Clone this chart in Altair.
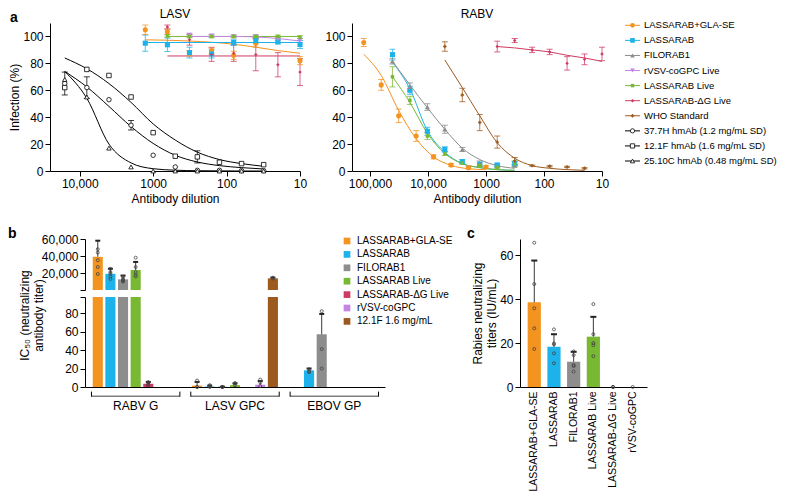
import altair as alt
import pandas as pd

FONT = "Liberation Sans"
ORANGE = "#F39320"
BLUE = "#1DB3EA"
GRAY = "#8D8D8D"
GREEN = "#78B833"
RED = "#CF3A62"
PURPLE = "#C585E2"
BROWN = "#9D5A1E"
INK = "#000000"
DOT = "#444444"

# ---------------- panel a : series ----------------
A_SERIES = ["LASSARAB+GLA-SE", "LASSARAB", "FILORAB1", "rVSV-coGPC Live",
            "LASSARAB Live", "LASSARAB-\u0394G Live", "WHO Standard",
            "37.7H hmAb (1.2 mg/mL SD)", "12.1F hmAb (1.6 mg/mL SD)",
            "25.10C hmAb (0.48 mg/mL SD)"]
A_COLORS = [ORANGE, BLUE, GRAY, PURPLE, GREEN, RED, BROWN, INK, INK, INK]
A_SHAPES = ["circle", "square", "triangle-up", "triangle-down", "square",
            "diamond", "cross", "circle", "square", "triangle-up"]
BIG = A_SERIES[:4]
SMALL = A_SERIES[4:7]
OPEN = A_SERIES[7:]

# LASV - human mAbs
lasv_hm_dil = [16000, 8000, 4000, 2000, 1000, 500, 250, 125, 62.5, 31.25]
lasv_377 = [65, 62, 53, 34, 11.7, 3, 0.5, 0.5, 0.3, 0.3]
lasv_377_err = [8.5, 8, 0, 3.5, 0, 0, 0, 0, 0, 0]
lasv_377_fit = [74, 62.5, 48, 33, 20.5, 11.7, 6.7, 4, 2.5, 1.5]
lasv_121 = [62, 75.5, 71, 55, 28.5, 11, 10.5, 6.5, 5.5, 4.7]
lasv_121_err = [0, 0, 0, 0, 0, 0, 4.5, 0, 0, 0]
lasv_121_fit = [84, 76, 65, 51, 35, 23, 14, 8.5, 5.5, 3.5]
lasv_2510 = [68, 55, 17, 3, 0, 0, 0, 0, 0, 0]
lasv_2510_err = [0, 0, 0, 0, 0, 0, 0, 0, 0, 0]
lasv_2510_fit = [74, 54, 20, 6, 1.7, 0.6, 0.2, 0.1, 0, 0]

# LASV - sera
lasv_vac_dil = [1280, 640, 320, 160, 80, 40, 20, 10]
lasv_gla = [105, 103.5, 87.5, 89.5, 86, 95, None, 82]
lasv_gla_err = [3.5, 2, 2, 2.5, 3, 3, None, 3]
lasv_gla_fit = [97.5, 97.2, 96.6, 95.7, 94.2, 92, 89.5, 87.5]
lasv_lsr = [95, 93.8, 88, 87, 95.5, 97, 96, 94]
lasv_lsr_err = [6, 5, 4, 3, 2, 2, 1.5, 3]
lasv_lsr_fit = [95.5, 95.5, 95.5, 95.5, 95.5, 95.5, 95.5, 95.5]
lasv_live = [None, 100.5, 100, 100, 100, 100, 100, 99.5]
lasv_live_err = [None, 1, 1, 1, 1, 1, 1, 1]
lasv_live_fit = [None, 100, 100, 100, 100, 100, 100, 100]
lasv_vsv = [None, None, 101, 100.5, 100, 100, 98, 97]
lasv_vsv_err = [None, None, 1.5, 1, 1, 1, 1, 1.5]
lasv_vsv_fit = [None, None, 100, 100, 100, 99.6, 98.5, 96.5]
lasv_dg = [None, 107, 97.5, 86.5, 87.5, 86.5, 79, 73.5]
lasv_dg_err = [None, 1.5, 4, 5, 6, 12, 9, 10]
lasv_dg_fit = [None, 85.5, 85.5, 85.5, 85.5, 85.5, 85.5, 85.5]

# RABV
rabv_gla_dil = [128000, 64000, 32000, 16000, 8000, 4000, 2000, 1000]
rabv_gla = [95.5, 64, 41, 26, 10.5, 4.5, 2.5, 3]
rabv_gla_err = [3, 4, 5, 4, 1.5, 1, 1, 1]
rabv_gla_fit = [86.8, 71, 45, 24, 10.5, 4.2, 1.7, 1]
rabv_vac_dil = [40960, 20480, 10240, 5120, 2560, 1280, 640, 320]
rabv_lsr = [86.5, 60, 29.5, 16, 7, 5, 4.5, 5.5]
rabv_lsr_err = [4, 3, 3, 2, 1.5, 1.5, 1, 1.5]
rabv_lsr_fit = [81, 61, 30, 14, 5.5, 2.5, 1, 0.5]
rabv_filo = [81.5, 62.5, 47.5, 31, 16, 5.5, 3.5, 4]
rabv_filo_err = [2, 3, 2.5, 3, 1.5, 2, 1, 1]
rabv_filo_fit = [81.5, 64, 47, 31, 17, 8.5, 4, 2]
rabv_live = [70, 52.5, 26, 13, 6, 4, 2.5, 5.5]
rabv_live_err = [7.5, 3, 2.5, 1.5, 1, 1, 1, 2]
rabv_live_fit = [70, 51, 28, 13, 5.5, 2.5, 1, 0.5]
rabv_who_dil = [5120, 2560, 1280, 640, 320, 160, 80, 40, 20]
rabv_who = [92.5, 56.5, 36, 21.5, 7.5, 4, 3.5, 3, 2]
rabv_who_err = [3.5, 5, 6, 4.5, 2.5, 0.5, 0.5, 0.5, 0.5]
rabv_who_fit = [82.5, 62, 41, 21, 9.5, 4, 2, 1, 0.5]
rabv_dg_dil = [640, 320, 160, 80, 40, 20, 10]
rabv_dg = [92.5, 97, 90, 88.5, 80, 83, 87]
rabv_dg_err = [4, 1.5, 2, 2, 5, 4, 5]
rabv_dg_fit = [92.5, 91.5, 90, 88.5, 86, 84, 81.5]

# ---------------- panel b ----------------
B_SERIES = ["LASSARAB+GLA-SE", "LASSARAB", "FILORAB1", "LASSARAB Live",
            "LASSARAB-\u0394G Live", "rVSV-coGPC", "12.1F 1.6 mg/mL"]
B_COLORS = [ORANGE, BLUE, GRAY, GREEN, RED, PURPLE, BROWN]
B_GROUPS = ["RABV G", "LASV GPC", "EBOV GP"]
b_mean_rabv = [39000, 19000, 12500, 23500, 3.5, None, None]
b_sd_rabv = [19000, 6000, 4500, 9500, 2, None, None]
b_mean_lasv = [1.5, 0.5, 0.3, 2, None, 2.5, 13700]
b_sd_lasv = [4, 1, 0, 2, None, 4, 900]
b_mean_ebov = [None, 18, 57, None, None, None, None]
b_sd_ebov = [None, 2, 22, None, None, None, None]
b_dots_rabv = [[48000, 44000, 35000, 27000, 18800], [25000, 21000, 19000, 16000, 13000],
               [15500, 13000, 11500, 10500, 10000], [38000, 27000, 21000, 18000, 16000],
               [5, 5, 3, 2, 2], [], []]
b_dots_lasv = [[7, 0, 0], [0, 2, 1], [0, 0, 0], [4, 4, 2], [], [8, 5, 1], [14500, 13500]]
b_dots_ebov = [[], [19, 17, 16], [82, 41, 20], [], [], [], []]

# ---------------- panel c ----------------
C_CATS = ["LASSARAB+GLA-SE", "LASSARAB", "FILORAB1", "LASSARAB Live",
          "LASSARAB-\u0394G Live", "rVSV-coGPC"]
C_COLORS = [ORANGE, BLUE, GRAY, GREEN, RED, PURPLE]
c_mean = [38.5, 18.3, 11.5, 22.9, 0, 0]
c_sd = [19, 5.7, 4.5, 9, 0, 0]
c_dots = [[65.6, 46.8, 35.8, 26.7, 17.3], [26.2, 19.8, 19.4, 15.3, 10.8],
          [16.2, 14.5, 10, 9.5, 7], [37.7, 24, 20, 19, 14], [0, 0, 0], [0]]

# ---------------- tables ----------------
pts, fits = [], []


def add(panel, series, dils, vals, errs, fit):
    for d, v, e, f in zip(dils, vals, errs, fit):
        if v is not None:
            e = e or 0
            pts.append({"panel": panel, "series": series, "dil": d, "val": v,
                        "lo": v - e, "hi": v + e, "err": e})
        if f is not None:
            fits.append({"panel": panel, "series": series, "dil": d, "fit": f})


add("LASV", A_SERIES[7], lasv_hm_dil, lasv_377, lasv_377_err, lasv_377_fit)
add("LASV", A_SERIES[8], lasv_hm_dil, lasv_121, lasv_121_err, lasv_121_fit)
add("LASV", A_SERIES[9], lasv_hm_dil, lasv_2510, lasv_2510_err, lasv_2510_fit)
add("LASV", A_SERIES[0], lasv_vac_dil, lasv_gla, lasv_gla_err, lasv_gla_fit)
add("LASV", A_SERIES[1], lasv_vac_dil, lasv_lsr, lasv_lsr_err, lasv_lsr_fit)
add("LASV", A_SERIES[4], lasv_vac_dil, lasv_live, lasv_live_err, lasv_live_fit)
add("LASV", A_SERIES[3], lasv_vac_dil, lasv_vsv, lasv_vsv_err, lasv_vsv_fit)
add("LASV", A_SERIES[5], lasv_vac_dil, lasv_dg, lasv_dg_err, lasv_dg_fit)
add("RABV", A_SERIES[0], rabv_gla_dil, rabv_gla, rabv_gla_err, rabv_gla_fit)
add("RABV", A_SERIES[1], rabv_vac_dil, rabv_lsr, rabv_lsr_err, rabv_lsr_fit)
add("RABV", A_SERIES[2], rabv_vac_dil, rabv_filo, rabv_filo_err, rabv_filo_fit)
add("RABV", A_SERIES[4], rabv_vac_dil, rabv_live, rabv_live_err, rabv_live_fit)
add("RABV", A_SERIES[6], rabv_who_dil, rabv_who, rabv_who_err, rabv_who_fit)
add("RABV", A_SERIES[5], rabv_dg_dil, rabv_dg, rabv_dg_err, rabv_dg_fit)
PTS = pd.DataFrame(pts)
FITS = pd.DataFrame(fits)

bars, bdots = [], []
for g, means, sds, dots in zip(B_GROUPS, [b_mean_rabv, b_mean_lasv, b_mean_ebov],
                               [b_sd_rabv, b_sd_lasv, b_sd_ebov],
                               [b_dots_rabv, b_dots_lasv, b_dots_ebov]):
    for s, m, sd, dd in zip(B_SERIES, means, sds, dots):
        if m is not None:
            bars.append({"group": g, "series": s, "mean": m, "top": m + sd})
        for v in dd:
            bdots.append({"group": g, "series": s, "val": v})
BB = pd.DataFrame(bars)
BD = pd.DataFrame(bdots)

CB = pd.DataFrame({"cat": C_CATS, "mean": c_mean,
                   "top": [m + s for m, s in zip(c_mean, c_sd)], "sd": c_sd})
CD = pd.DataFrame([{"cat": c, "val": v} for c, dd in zip(C_CATS, c_dots) for v in dd])

LBL = "datum.value >= 10000 ? format(datum.value, ',') : format(datum.value, 'd')"
a_color = alt.Color("series:N", scale=alt.Scale(domain=A_SERIES, range=A_COLORS), legend=None)
a_shape = alt.Shape("series:N", scale=alt.Scale(domain=A_SERIES, range=A_SHAPES), legend=None)


def letter(t, x, y):
    return alt.Chart(pd.DataFrame({"t": [t]})).mark_text(
        font=FONT, fontSize=14, fontWeight="bold", align="left", baseline="alphabetic"
    ).encode(x=alt.value(x), y=alt.value(y), text="t:N")


def curve_panel(panel, dmax, ticks, ytitle):
    P = PTS[PTS.panel == panel]
    F = FITS[FITS.panel == panel]
    E = P[P.err > 0]
    x = alt.X("dil:Q", scale=alt.Scale(type="log", domain=[10, dmax], reverse=True, nice=False),
              axis=alt.Axis(values=ticks, labelExpr=LBL, title="Antibody dilution",
                            labelFlush=False))

    def y(field):
        return alt.Y(field, type="quantitative", scale=alt.Scale(domain=[0, 110], nice=False),
                     axis=alt.Axis(values=[0, 20, 40, 60, 80, 100], title=ytitle, titlePadding=1))

    layers = [
        alt.Chart(F).mark_line(strokeWidth=1, interpolate="monotone").encode(
            x=x, y=y("fit"), color=a_color, detail="series:N"),
        alt.Chart(E).mark_rule(strokeWidth=0.9, opacity=0.85).encode(
            x=x, y=y("lo"), y2="hi:Q", color=a_color),
        alt.Chart(E).mark_point(shape="stroke", size=36, strokeWidth=0.9, filled=False, opacity=0.85).encode(
            x=x, y=y("hi"), color=a_color),
        alt.Chart(E).mark_point(shape="stroke", size=36, strokeWidth=0.9, filled=False, opacity=0.85).encode(
            x=x, y=y("lo"), color=a_color),
        alt.Chart(P[P.series.isin(BIG)]).mark_point(filled=True, size=26, opacity=1).encode(
            x=x, y=y("val"), color=a_color, shape=a_shape),
        alt.Chart(P[P.series.isin(SMALL)]).mark_point(filled=True, size=12, opacity=1).encode(
            x=x, y=y("val"), color=a_color, shape=a_shape),
    ]
    O = P[P.series.isin(OPEN)]
    if len(O):
        layers.append(alt.Chart(O).mark_point(filled=True, fill="white", stroke=INK, strokeWidth=0.8,
                                              size=20, opacity=1).encode(x=x, y=y("val"), shape=a_shape))
    return alt.layer(*layers).properties(
        width=250, height=148, title=alt.TitleParams(panel, offset=2, frame="group"))


lasv = curve_panel("LASV", 25400, [10, 100, 1000, 10000], "Infection (%)")
rabv = curve_panel("RABV", 204000, [10, 100, 1000, 10000, 100000], None)

# manual legend for panel a (sits right of RABV); also carries the panel letter "a"
L = pd.DataFrame({"series": A_SERIES})
ly = alt.Y("series:N", sort=A_SERIES,
           scale=alt.Scale(type="point", domain=A_SERIES, range=[2.3, 138], padding=0), axis=None)
legA = alt.layer(
    alt.Chart(L).mark_rule(strokeWidth=1).encode(x=alt.value(-29), x2=alt.value(-14), y=ly, color=a_color),
    alt.Chart(L[L.series.isin(BIG)]).mark_point(filled=True, size=22, opacity=1).encode(
        x=alt.value(-21.5), y=ly, color=a_color, shape=a_shape),
    alt.Chart(L[L.series.isin(SMALL)]).mark_point(filled=True, size=12, opacity=1).encode(
        x=alt.value(-21.5), y=ly, color=a_color, shape=a_shape),
    alt.Chart(L[L.series.isin(OPEN)]).mark_point(filled=True, fill="white", stroke=INK, strokeWidth=0.8,
                                                 size=18, opacity=1).encode(
        x=alt.value(-21.5), y=ly, shape=a_shape),
    alt.Chart(L).mark_text(align="left", baseline="middle", font=FONT, fontSize=9.5, color=INK).encode(
        x=alt.value(-10), y=ly, text="series:N"),
    letter("a", -644, -1),
).properties(width=100, height=148)

# ---------------- panel b (broken axis in one chart) ----------------
b_xscale = alt.Scale(domain=B_GROUPS, range=[35, 335], paddingInner=0.11, paddingOuter=0.065)
bxo = alt.XOffset("series:N", sort=B_SERIES,
                  scale=alt.Scale(domain=B_SERIES, paddingInner=0.2, paddingOuter=0.1))
b_legend = alt.Legend(orient="none", legendX=292, legendY=-3, title=None,
                      symbolType="square", symbolSize=45, symbolStrokeWidth=0,
                      labelFont=FONT, labelFontSize=10, labelColor=INK,
                      rowPadding=3.4, labelOffset=5)
b_color = alt.Color("series:N", scale=alt.Scale(domain=B_SERIES, range=B_COLORS), legend=b_legend)
bx = alt.X("group:N", sort=B_GROUPS, scale=b_xscale,
           axis=alt.Axis(title=None, ticks=False, labelPadding=13, labelAngle=0))

TOP_SCALE = alt.Scale(domain=[0, 60000], range=[51, 0], nice=False)
BOT_SCALE = alt.Scale(domain=[0, 97.3], range=[148, 58], nice=False)


def by_top(field, axis=False):
    ax = alt.Axis(orient="left", offset=-35, values=[0, 20000, 40000, 60000],
                  labelExpr="datum.value == 0 ? '' : format(datum.value, ',')",
                  title=None) if axis else None
    return alt.Y(field, type="quantitative", scale=TOP_SCALE, axis=ax)


def by_bot(field, axis=False):
    ax = alt.Axis(orient="left", offset=-35, values=[0, 20, 40, 60, 80, 97.3],
                  labelExpr="datum.value > 90 ? '' : format(datum.value, 'd')",
                  title=["IC\u2085\u2080 (neutralizing", "antibody titer)"],
                  titleX=-54, titleY=76, titleBaseline="bottom", titleAlign="center") if axis else None
    return alt.Y(field, type="quantitative", scale=BOT_SCALE, axis=ax)


BBt = BB[BB["mean"] > 100]
BBb = BB[BB["top"] < 97]
GR = pd.DataFrame({"group": B_GROUPS})
b_chart = alt.layer(
    # upper section
    alt.Chart(BBt).mark_bar().encode(x=bx, xOffset=bxo, y=by_top("mean", True), color=b_color),
    alt.Chart(BBt).mark_rule(color="#222222", strokeWidth=0.9).encode(
        x=bx, xOffset=bxo, y=by_top("mean"), y2="top:Q"),
    alt.Chart(BBt).mark_point(shape="stroke", size=25, color="#222222", filled=False, opacity=1).encode(
        x=bx, xOffset=bxo, y=by_top("top")),
    alt.Chart(BD[BD.val > 100]).mark_point(size=9, filled=False, color=DOT, strokeWidth=0.8, opacity=1).encode(
        x=bx, xOffset=bxo, y=by_top("val")),
    # lower section
    alt.Chart(BB).transform_calculate(mclip="min(datum.mean, 97.3)").mark_bar().encode(
        x=bx, xOffset=bxo, y=by_bot("mclip", True), color=b_color),
    alt.Chart(BBb).mark_rule(color="#222222", strokeWidth=0.9).encode(
        x=bx, xOffset=bxo, y=by_bot("mean"), y2="top:Q"),
    alt.Chart(BBb).mark_point(shape="stroke", size=25, color="#222222", filled=False, opacity=1).encode(
        x=bx, xOffset=bxo, y=by_bot("top")),
    alt.Chart(BD[BD.val <= 97]).mark_point(size=9, filled=False, color=DOT, strokeWidth=0.8, opacity=1).encode(
        x=bx, xOffset=bxo, y=by_bot("val")),
    # group brackets under the axis
    alt.Chart(GR).mark_bar(color=INK).encode(
        x=bx, y=alt.Y(datum=-9.4, type="quantitative", scale=BOT_SCALE, axis=None), y2=alt.datum(-10.4)),
    alt.Chart(GR).mark_rule(color=INK, strokeWidth=1).encode(
        x=alt.X("group:N", sort=B_GROUPS, scale=b_xscale, bandPosition=0),
        y=alt.Y(datum=-10.4, type="quantitative", scale=BOT_SCALE, axis=None), y2=alt.datum(-5)),
    alt.Chart(GR).mark_rule(color=INK, strokeWidth=1).encode(
        x=alt.X("group:N", sort=B_GROUPS, scale=b_xscale, bandPosition=1),
        y=alt.Y(datum=-10.4, type="quantitative", scale=BOT_SCALE, axis=None), y2=alt.datum(-5)),
    letter("b", -42, -1),
).resolve_scale(y="independent").properties(width=335, height=148)

# ---------------- panel c chart ----------------
cx = alt.X("cat:N", sort=C_CATS,
           scale=alt.Scale(domain=C_CATS, paddingInner=0.33, paddingOuter=0.39),
           axis=alt.Axis(title=None, labelAngle=-90, ticks=False, labelPadding=4, labelFontSize=10.5))


def cy(field):
    return alt.Y(field, type="quantitative", scale=alt.Scale(domain=[0, 67.3], nice=False),
                 axis=alt.Axis(values=[0, 20, 40, 60], title=["Rabies neutralizing", "titers (IU/mL)"],
                               titlePadding=1))


CBe = CB[CB.sd > 0]
c_chart = alt.layer(
    alt.Chart(CB).mark_bar().encode(
        x=cx, y=cy("mean"),
        color=alt.Color("cat:N", scale=alt.Scale(domain=C_CATS, range=C_COLORS), legend=None)),
    alt.Chart(CBe).mark_rule(color="#222222", strokeWidth=0.9).encode(x=cx, y=cy("mean"), y2="top:Q"),
    alt.Chart(CBe).mark_point(shape="stroke", size=36, color="#222222", filled=False, opacity=1).encode(
        x=cx, y=cy("top")),
    alt.Chart(CD).mark_point(size=9, filled=False, color=DOT, strokeWidth=0.8, opacity=1).encode(
        x=cx, y=cy("val")),
    letter("c", -53, -1),
).properties(width=127, height=148)

RES = dict(x="independent", y="independent", color="independent", shape="independent")
top_row = alt.hconcat(lasv, rabv, legA, spacing=52, bounds="flush").resolve_scale(**RES)
bottom_row = alt.hconcat(b_chart, c_chart, spacing=135, bounds="flush").resolve_scale(**RES)

chart = alt.vconcat(top_row, bottom_row, spacing=23).resolve_scale(**RES).properties(
    padding={"left": 0, "top": 0, "right": 0, "bottom": 0}
).configure(font=FONT).configure_axis(
    labelFont=FONT, titleFont=FONT, labelFontSize=12, titleFontSize=12, titleFontWeight="normal",
    labelColor=INK, titleColor=INK, domainColor=INK, tickColor=INK, grid=False,
    tickSize=5, labelPadding=2, domainWidth=1, tickWidth=1
).configure_view(stroke=None).configure_title(
    font=FONT, fontSize=12, fontWeight="normal", color=INK
)

chart.save("out.html", embed_options={"renderer": "svg", "actions": False})
